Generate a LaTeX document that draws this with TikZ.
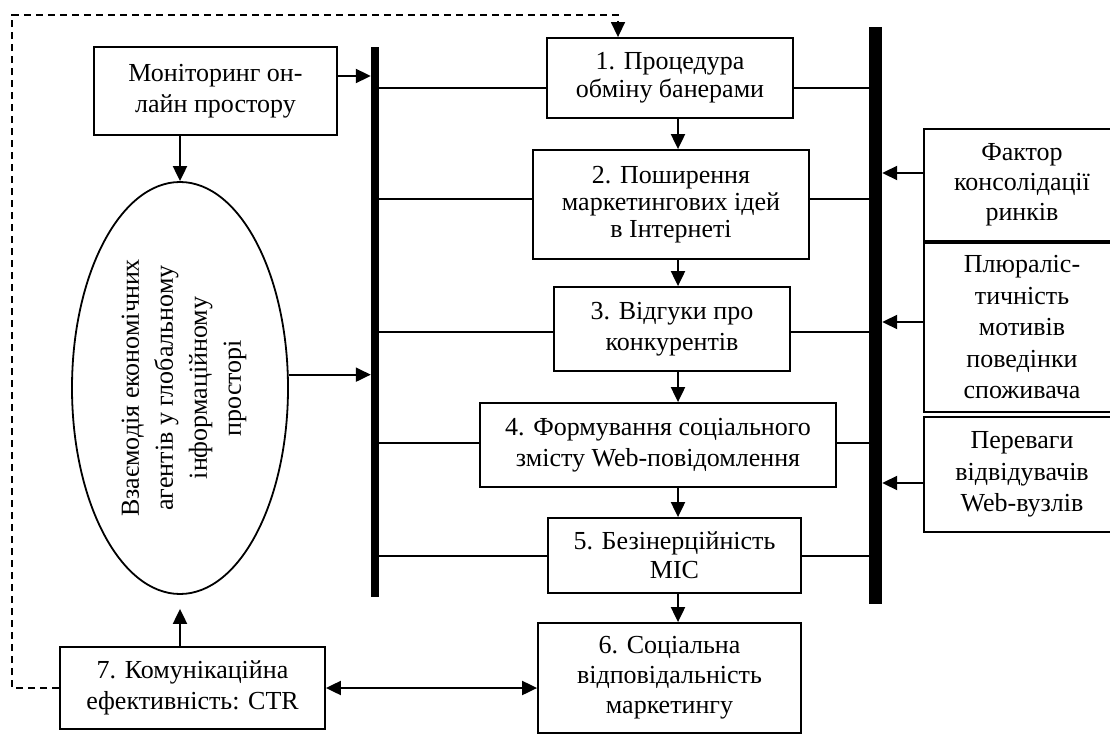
\documentclass[tikz,border=0pt]{standalone}
\usepackage{fontspec}
\setmainfont{Liberation Serif}
\usetikzlibrary{arrows.meta,shapes.geometric}
\begin{document}
\begin{tikzpicture}[x=1pt,y=-1pt,
  txt/.style={font=\fontsize{26}{31.5}\selectfont, align=center},
  box/.style={draw, line width=1.8pt, inner sep=0pt, txt},
  bar/.style={fill=black, inner sep=0pt, draw=none},
  arr/.style={line width=2pt, -{Triangle[length=15pt,width=14pt]}},
  darr/.style={line width=2pt, {Triangle[length=15pt,width=14pt]}-{Triangle[length=15pt,width=14pt]}},
  ln/.style={line width=1.5pt},
  dsh/.style={line width=1.5pt, dash pattern=on 7pt off 5pt, -{Triangle[length=15pt,width=14pt]}}]
\clip (0,0) rectangle (1110,735);
\useasboundingbox (0,0) rectangle (1110,735);

% bars
\node[bar, minimum width=8pt, minimum height=550pt] (lbar) at (375,322) {};
\node[bar, minimum width=13pt, minimum height=577pt] (rbar) at (875.5,315.5) {};

% boxes
\node[box, minimum width=243pt, minimum height=88pt] (mon) at (215.5,91) {Моніторинг он-\\лайн простору};
\node[box, minimum width=246pt, minimum height=80pt, font=\fontsize{26}{28}\selectfont] (b1) at (670,78) {1. Процедура\\обміну банерами};
\node[box, minimum width=276pt, minimum height=109pt, font=\fontsize{26}{27}\selectfont] (b2) at (671,204.5) {2. Поширення\\маркетингових ідей\\в Інтернеті};
\node[box, minimum width=236pt, minimum height=84pt] (b3) at (672,329) {3. Відгуки про\\конкурентів};
\node[box, minimum width=356pt, minimum height=84pt] (b4) at (658,445) {4. Формування соціального\\змісту Web-повідомлення};
\node[box, minimum width=253pt, minimum height=75pt, font=\fontsize{26}{29}\selectfont] (b5) at (674.5,555.5) {5. Безінерційність\\МІС};
\node[box, minimum width=263pt, minimum height=110pt, font=\fontsize{26}{30}\selectfont] (b6) at (669.5,678) {6. Соціальна\\відповідальність\\маркетингу};
\node[box, minimum width=265pt, minimum height=82pt] (b7) at (192.5,688) {7. Комунікаційна\\ефективність: CTR};
\node[box, minimum width=196pt, minimum height=112pt, font=\fontsize{26}{30}\selectfont] (f1) at (1022,185) {Фактор\\консолідації\\ринків};
\node[box, minimum width=196pt, minimum height=169pt] (f2) at (1022,327.5) {Плюраліс-\\тичність\\мотивів\\поведінки\\споживача};
\node[box, minimum width=196pt, minimum height=115pt] (f3) at (1022,474.5) {Переваги\\відвідувачів\\Web-вузлів};

% ellipse
\node[draw, ellipse, line width=1.8pt, minimum width=216pt, minimum height=412pt, inner sep=0pt] (ell) at (180,388) {};
\node[txt, rotate=90, font=\fontsize{26}{34}\selectfont] (elltxt) at (184,388) {Взаємодія економічних\\агентів у глобальному\\інформаційному\\просторі};

% level coordinates
\coordinate (ym) at (0,76);
\coordinate (y1) at (0,88);
\coordinate (y2) at (0,199);
\coordinate (y3) at (0,332);
\coordinate (y4) at (0,443);
\coordinate (y5) at (0,556);
\coordinate (yf1) at (0,173);
\coordinate (yf2) at (0,322);
\coordinate (yf3) at (0,483);
\coordinate (xa) at (678,0);
\coordinate (dtl) at (12,15);
\coordinate (dtr) at (618,15);

% connectors to bars
\draw[arr] (mon.east |- ym) -- (lbar.west |- ym);
\draw[arr] (ell.7.5) -- (lbar.west |- ell.7.5);
\foreach \b/\y in {b1/y1,b2/y2,b3/y3,b4/y4,b5/y5}{
  \draw[ln] (lbar.east |- \y) -- (\b.west |- \y);
  \draw[ln] (\b.east |- \y) -- (rbar.west |- \y);
}
\draw[arr] (f1.west |- yf1) -- (rbar.east |- yf1);
\draw[arr] (f2.west |- yf2) -- (rbar.east |- yf2);
\draw[arr] (f3.west |- yf3) -- (rbar.east |- yf3);

% chain
\draw[arr] (b1.south -| xa) -- (b2.north -| xa);
\draw[arr] (b2.south -| xa) -- (b3.north -| xa);
\draw[arr] (b3.south -| xa) -- (b4.north -| xa);
\draw[arr] (b4.south -| xa) -- (b5.north -| xa);
\draw[arr] (b5.south -| xa) -- (b6.north -| xa);

% ellipse links
\draw[arr] (mon.south -| ell.north) -- (ell.north);
\draw[arr, shorten >=14pt] (b7.north -| ell.south) -- (ell.south);
\draw[darr] (b7.east) -- (b6.west |- b7.east);

% dashed feedback
\draw[dsh] (b7.west) -- (b7.west -| dtl) -- (dtl) -- (dtr) -- (b1.north -| dtr);
\end{tikzpicture}
\end{document}
